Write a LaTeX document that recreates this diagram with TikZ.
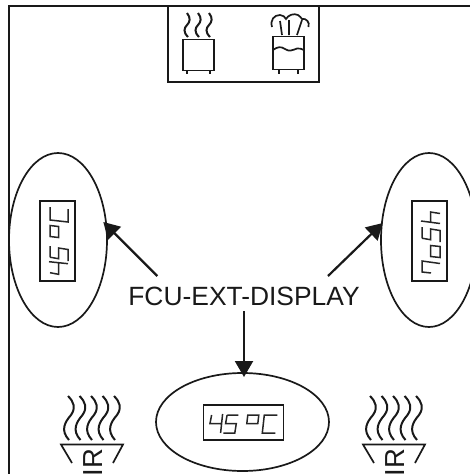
\documentclass[tikz,border=0pt]{standalone}
\usepackage{fontspec}
\setmainfont{Liberation Sans}
\usetikzlibrary{shapes.geometric,arrows.meta}
\tikzset{
  frameline/.style={line width=2pt,color=black!90},
  oval/.style={draw,ellipse,inner sep=0pt,line width=1.7pt,color=black!90},
  pointer/.style={line width=2.2pt,color=black!90,-{Triangle[length=16pt,width=18pt]}},
  dispbox/.style={draw,rectangle,inner sep=0pt,line width=1.6pt,color=black!90},
  seg/.style={line width=1.5pt,color=black!85},
  ico/.style={line width=1.7pt,color=black!90},
  wave/.style={line width=2pt,color=black!90},
  labeltext/.style={font=\fontsize{26.4}{26.4}\selectfont,text=black!90,inner sep=0pt},
}
\newcommand{\glyphfour}[1]{\draw[seg,shift={(#1,0)}] (8.3,10)--(6.7,18.5)--(18,18.5) (19.3,9)--(17.3,28);}
\newcommand{\glyphfive}[1]{\draw[seg,shift={(#1,0)}] (8,10)--(19,10) (7.8,10)--(6.3,18.5)--(17,18.5)--(15.5,28)--(4,28);}
\newcommand{\glyphdeg}[1]{\draw[seg,shift={(#1,0)}] (6,10)--(17,10)--(16,18.5)--(5,18.5)--cycle;}
\newcommand{\glyphC}[1]{\draw[seg,shift={(#1,0)}] (18,10)--(5,10)--(3,28)--(16,28);}
\newcommand{\glyphseven}[1]{\draw[seg,shift={(#1,0)}] (8,19)--(9,10)--(20,10)--(17.5,28);}
\newcommand{\glypho}[1]{\draw[seg,shift={(#1,0)}] (5.5,18.5)--(16.5,18.5)--(15.5,28)--(4.5,28)--cycle;}
\newcommand{\glyphh}[1]{\draw[seg,shift={(#1,0)}] (8,9)--(5.5,28) (6.5,18.5)--(17,18.5)--(15.5,28);}
\newcommand{\irsymbol}[1]{
  \begin{scope}[shift={(#1,0)}]
    \foreach \dx in {0,11.5,23,34.5,46}{
      \draw[wave,shift={(\dx,0)}] (68,396) .. controls (74,402) and (76,408) .. (71,415) .. controls (65,422) and (60,430) .. (69,440);
    }
    \draw[ico] (72,463)--(61,444.5)--(123,444.5)--(113,463);
    \node[labeltext,font=\fontsize{27.5}{27.5}\selectfont,rotate=90,anchor=base west] at (102,476.5) {IR};
  \end{scope}
}
\begin{document}
\begin{tikzpicture}[x=1pt,y=-1pt]
\useasboundingbox (0,0) rectangle (470,474);
% frame
\draw[frameline] (9,474)--(9,5.5)--(470,5.5);
\draw[frameline] (168,5.5)--(168,81.5)--(319,81.5)--(319,5.5);
% tank with steam
\draw[ico] (183,39.5) rectangle (214,70.5);
\draw[ico] (187,70.5)--(187,74) (210,70.5)--(210,74);
\foreach \dx in {0,11,22}{
  \draw[wave,shift={(\dx,0)}] (187,13) .. controls (191,18) and (190,22) .. (187,25) .. controls (184,28) and (183,32) .. (188,37);
}
% tank with boiling water
\draw[ico] (273,36.5) rectangle (304,69.5);
\draw[ico] (279,69.5)--(279,74) (298,69.5)--(298,74);
\draw[ico] (273,50) .. controls (277,47) and (281,46) .. (285,49) .. controls (289,52) and (293,50) .. (297,48.5) .. controls (299,48) and (302,49) .. (304,50);
\draw[ico] (272,27) .. controls (270,20) and (274,15) .. (280,15) .. controls (283,15) and (285,17) .. (286,19) .. controls (288,15) and (294,13) .. (298,15) .. controls (300,16) and (301,18) .. (302,19) .. controls (306,18) and (310,22) .. (308.5,27);
\draw[ico] (280,21)--(282,35) (289,20)--(289,35) (302,20)--(297,35);
% ellipses
\node[oval,minimum width=98pt,minimum height=174pt] (ovalL) at (58,240) {};
\node[oval,minimum width=96pt,minimum height=174pt] (ovalR) at (429,240) {};
\node[oval,minimum width=173pt,minimum height=98pt] (ovalB) at (242.5,422) {};
% displays
\node[dispbox,minimum width=35pt,minimum height=80pt] (dispL) at (57.5,241) {};
\node[dispbox,minimum width=35pt,minimum height=80pt] (dispR) at (429.5,241) {};
\node[dispbox,minimum width=80pt,minimum height=35pt] (dispB) at (243.3,422.5) {};
\begin{scope}[shift={(203.3,405)}]
  \glyphfour{0}\glyphfive{16}\glyphdeg{38.5}\glyphC{56}
\end{scope}
\begin{scope}[shift={(40,281)},rotate=90]
  \glyphfour{0}\glyphfive{16}\glyphdeg{38.5}\glyphC{56}
\end{scope}
\begin{scope}[shift={(412,281)},rotate=90]
  \glyphseven{0}\glypho{19}\glyphfive{35}\glyphh{52}
\end{scope}
% label and pointers
\node[labeltext,anchor=base] (label) at (244,305) {FCU-EXT-DISPLAY};
\coordinate (fromL) at (157.3,276);
\coordinate (toL) at (103.3,222);
\coordinate (fromR) at (328,276);
\coordinate (toR) at (382.7,223);
\coordinate (fromB) at (244,311);
\coordinate (toB) at (244,377);
\draw[pointer] (fromL)--(toL);
\draw[pointer] (fromR)--(toR);
\draw[pointer] (fromB)--(toB);
% IR symbols
\irsymbol{0}
\irsymbol{302}
\end{tikzpicture}
\end{document}
